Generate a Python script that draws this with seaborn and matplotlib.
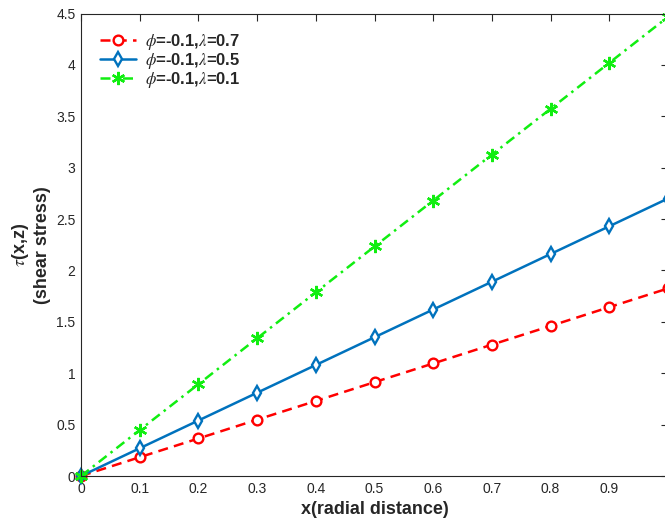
import numpy as np
import pandas as pd
import seaborn as sns
import matplotlib
matplotlib.use("Agg")
import matplotlib.pyplot as plt

x = [0, 0.1, 0.2, 0.3, 0.4, 0.5, 0.6, 0.7, 0.8, 0.9, 1.0]
tau_l07 = [0, 0.183, 0.365, 0.548, 0.730, 0.913, 1.095, 1.278, 1.460, 1.643, 1.825]
tau_l05 = [0, 0.270, 0.540, 0.810, 1.080, 1.350, 1.620, 1.890, 2.160, 2.430, 2.700]
tau_l01 = [0, 0.447, 0.893, 1.340, 1.787, 2.233, 2.680, 3.127, 3.573, 4.020, 4.467]
labels = [r"$\phi$=-0.1,$\lambda$=0.7", r"$\phi$=-0.1,$\lambda$=0.5", r"$\phi$=-0.1,$\lambda$=0.1"]
xticks = [0, 0.1, 0.2, 0.3, 0.4, 0.5, 0.6, 0.7, 0.8, 0.9]
yticks = [0, 0.5, 1, 1.5, 2, 2.5, 3, 3.5, 4, 4.5]

sns.set_style("white")
plt.rcParams['font.family'] = ['Liberation Sans', 'DejaVu Sans']
plt.rcParams['mathtext.fontset'] = 'stix'

W, H = 665, 525
fig = plt.figure(figsize=(W / 100, H / 100), dpi=100)
left, bottom_px, top_px, right_px = 81, 476, 13.5, 668
ax = fig.add_axes([left / W, (H - bottom_px) / H, (right_px - left) / W, (bottom_px - top_px) / H])

df = pd.DataFrame({"x": x, "a": tau_l07, "b": tau_l05, "c": tau_l01})
styles = [
    ("a", "#ff0000", "o", (0, (4, 2.5)), labels[0], 7),
    ("b", "#0072bd", "d", "-", labels[1], 7.5),
    ("c", "#11ee11", (6, 2, 0), (0, (4, 2, 1, 2)), labels[2], 9.5),
]
for col, c, m, ls, lab, ms in styles:
    sns.lineplot(data=df, x="x", y=col, ax=ax, color=c, marker=m, linestyle=ls,
                 linewidth=1.8, markersize=ms,
                 markerfacecolor="white" if m != (6, 2, 0) else c,
                 markeredgecolor=c, markeredgewidth=1.7, label=lab, clip_on=False)

ax.set_xlim(0, 1)
ax.set_ylim(0, 4.5)
ax.set_xticks(xticks)
ax.set_xticklabels([f"{v:g}" for v in xticks])
ax.set_yticks(yticks)
ax.set_yticklabels([f"{v:g}" for v in yticks])
ax.tick_params(direction="in", length=5, width=0.8, top=True, right=True,
               labelsize=10, labelcolor="#262626", color="#262626", pad=4)
for s in ax.spines.values():
    s.set_visible(True)
    s.set_color("#262626")
    s.set_linewidth(0.8)

ax.set_xlabel("x(radial distance)", fontsize=13, fontweight="bold", color="#262626", labelpad=4)
ax.set_ylabel("$\\tau$(x,z)\n(shear stress)", fontsize=13, fontweight="bold", color="#262626", labelpad=4)

leg = ax.legend(loc="upper left", frameon=False, prop={"weight": "bold", "size": 12},
                handlelength=2.2, borderaxespad=0.3, labelspacing=-0.07, handletextpad=0.5,
                bbox_to_anchor=(0.012, 0.985))

fig.savefig("out.png", dpi=100)
